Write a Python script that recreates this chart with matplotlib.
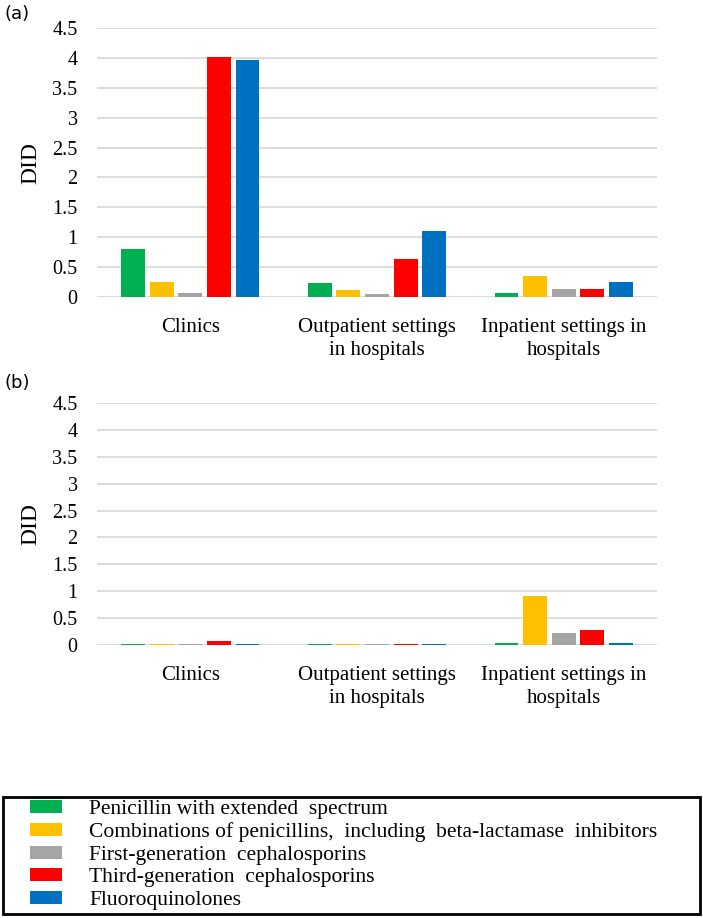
import matplotlib.pyplot as plt
import numpy as np
from matplotlib.patches import Patch, Rectangle

plt.rcParams["font.family"] = ["Liberation Serif", "DejaVu Serif"]

categories = ["Clinics", "Outpatient settings\nin hospitals", "Inpatient settings in\nhospitals"]
drug_classes = [
    "Penicillin with extended  spectrum",
    "Combinations of penicillins,  including  beta-lactamase  inhibitors",
    "First-generation  cephalosporins",
    "Third-generation  cephalosporins",
    "Fluoroquinolones",
]
colors = ["#00B050", "#FFC000", "#A5A5A5", "#FF0000", "#0070C0"]

# panel (a): values per drug class across the three settings
did_a = [
    [0.81, 0.24, 0.06],
    [0.25, 0.11, 0.35],
    [0.06, 0.05, 0.13],
    [4.02, 0.64, 0.13],
    [3.96, 1.10, 0.25],
]
# panel (b)
did_b = [
    [0.01, 0.01, 0.03],
    [0.01, 0.01, 0.92],
    [0.01, 0.01, 0.23],
    [0.08, 0.01, 0.27],
    [0.01, 0.01, 0.04],
]
yticks = [0, 0.5, 1, 1.5, 2, 2.5, 3, 3.5, 4, 4.5]
yticklabels = ["0", "0.5", "1", "1.5", "2", "2.5", "3", "3.5", "4", "4.5"]

W, H = 703, 918
fig = plt.figure(figsize=(W / 100, H / 100), dpi=100)


def draw_panel(ax, data, tag, tag_y):
    x = np.arange(len(categories))
    step, width = 0.153, 0.128
    for i, vals in enumerate(data):
        ax.bar(x + (i - 2) * step, vals, width, color=colors[i], zorder=3)
    ax.set_xlim(-0.5, 2.5)
    ax.set_ylim(0, 4.5)
    ax.set_yticks(yticks)
    ax.set_yticklabels(yticklabels, fontsize=14.5)
    ax.set_xticks(x)
    ax.set_xticklabels(categories, fontsize=15, linespacing=1.3)
    ax.tick_params(axis="both", length=0)
    ax.tick_params(axis="y", pad=14)
    ax.tick_params(axis="x", pad=15)
    ax.grid(axis="y", color="#D9D9D9", linewidth=1.3, zorder=0)
    for s in ax.spines.values():
        s.set_visible(False)
    ax.set_ylabel("DID", fontsize=17)
    ax.yaxis.set_label_coords(-56 / 560, 0.5)
    ax.text(-92 / 560, tag_y, tag, transform=ax.transAxes, fontsize=13,
            family="DejaVu Sans", ha="left", va="bottom")


ax1 = fig.add_axes([97 / W, 1 - 297 / H, 560 / W, 269 / H])
draw_panel(ax1, did_a, "(a)", 1.02)
ax2 = fig.add_axes([97 / W, 1 - 645 / H, 560 / W, 242 / H])
draw_panel(ax2, did_b, "(b)", 1.045)

# legend box
fig.patches.append(Rectangle((3 / W, 1 - 914 / H), 697 / W, 117 / H,
                             transform=fig.transFigure, fill=False,
                             edgecolor="black", linewidth=2))
handles = [Patch(facecolor=c) for c in colors]
leg = fig.legend(handles, drug_classes, loc="center left",
                 bbox_to_anchor=(30 / W, 1 - 855 / H), borderaxespad=0,
                 fontsize=15.5, handlelength=1.5, handleheight=0.55,
                 handletextpad=1.25, labelspacing=0.16, borderpad=0,
                 frameon=False)

fig.savefig("out.png", dpi=100)
